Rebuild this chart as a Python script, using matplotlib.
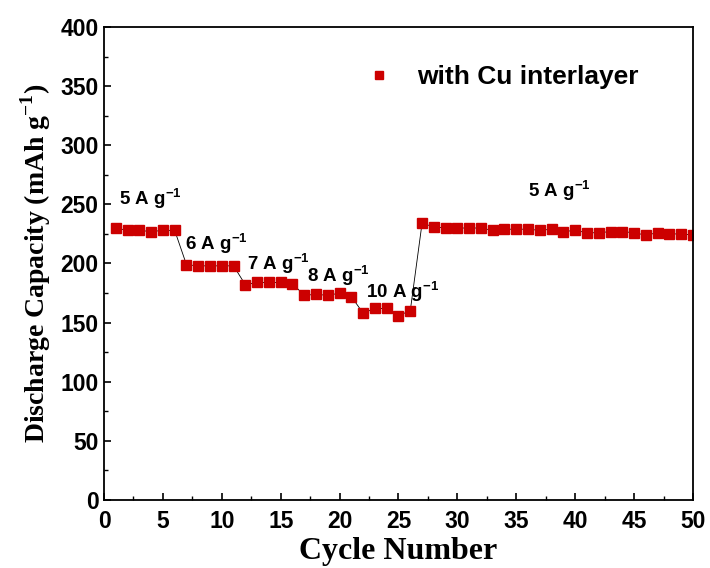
import matplotlib
matplotlib.use("Agg")
import matplotlib.pyplot as plt
from matplotlib.ticker import MultipleLocator

plt.rcParams['font.family'] = ['Liberation Sans', 'DejaVu Sans']
plt.rcParams['font.weight'] = 'bold'
plt.rcParams['mathtext.fontset'] = 'custom'
plt.rcParams['mathtext.rm'] = 'Liberation Serif:bold'
plt.rcParams['mathtext.sf'] = 'Liberation Sans:bold'

# discharge capacity per cycle (mAh/g)
cycles = list(range(1, 51))
capacity = [230, 228, 228, 227, 228, 228,
            199, 198, 198, 198, 198,
            182, 184, 184, 184, 183,
            173, 174, 173, 175, 172,
            158, 162, 162, 156, 160,
            234, 231, 230, 230, 230, 230, 228, 229, 229, 229,
            228, 229, 227, 228, 226, 226, 227, 227, 226, 224,
            226, 225, 225, 224]

rate_labels = ['5 A g', '6 A g', '7 A g', '8 A g', '10 A g', '5 A g']
rate_x = [1.3, 6.9, 12.1, 17.2, 22.2, 36.0]
rate_y = [255, 217, 200, 190, 176, 262]

fig = plt.figure(figsize=(7.1, 5.68), dpi=100)
ax = fig.add_axes([0.1465, 0.1197, 0.8295, 0.8328])

ax.plot(cycles, capacity, color='black', lw=0.6, marker='s', ms=6.5,
        mfc='#cc0000', mec='#cc0000')

for lab, x, y in zip(rate_labels, rate_x, rate_y):
    ax.text(x, y, lab + r'$^{\mathsf{-1}}$', fontsize=13.5, fontweight='bold',
            ha='left', va='center')

ax.set_xlim(0, 50)
ax.set_ylim(0, 400)
ax.xaxis.set_major_locator(MultipleLocator(5))
ax.xaxis.set_minor_locator(MultipleLocator(2.5))
ax.yaxis.set_major_locator(MultipleLocator(50))
ax.yaxis.set_minor_locator(MultipleLocator(25))
ax.tick_params(which='both', direction='in', top=False, right=False)
ax.tick_params(which='major', length=5, width=1.2, labelsize=16.5)
ax.tick_params(axis='x', which='major', pad=7)
ax.tick_params(axis='y', which='major', pad=4)
ax.tick_params(which='minor', length=3, width=1.0)
for sp in ax.spines.values():
    sp.set_linewidth(1.3)

ax.set_xlabel('Cycle Number', fontsize=23, fontweight='bold',
              family='Liberation Serif', labelpad=3)
ax.set_ylabel(r'Discharge Capacity (mAh g$^{\mathrm{-1}}$)', fontsize=20,
              fontweight='bold', family='Liberation Serif', labelpad=5)

# legend shows only the marker
h = ax.plot([], [], ls='none', marker='s', ms=6, mfc='#cc0000',
            mec='#cc0000')[0]
ax.legend([h], ['with Cu interlayer'], loc='upper left',
          bbox_to_anchor=(0.382, 0.97), frameon=False,
          handletextpad=0.45, prop={'weight': 'bold', 'size': 19})

fig.savefig('out.png', dpi=100)
